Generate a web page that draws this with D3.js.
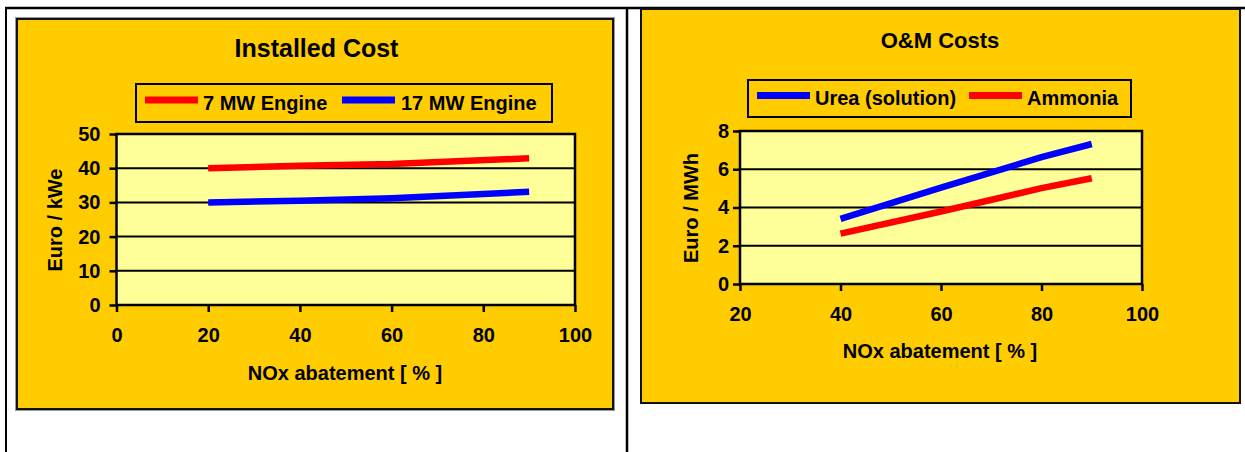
<!DOCTYPE html>
<html>
<head>
<meta charset="utf-8">
<script src="https://cdn.jsdelivr.net/npm/d3@7"></script>
<style>
  html, body { margin: 0; padding: 0; background: #fff; }
  svg text { font-family: Arial, "Liberation Sans", sans-serif; font-weight: bold; fill: #000; }
</style>
</head>
<body>
<svg id="chart" width="1245" height="452"></svg>
<script>
// ---- data: Installed Cost ----
const costX = [20, 40, 60, 90];
const cost7MW = [40.0, 40.7, 41.2, 42.9];
const cost17MW = [30.0, 30.5, 31.2, 33.1];
const costXTicks = [0, 20, 40, 60, 80, 100];
const costYTicks = [0, 10, 20, 30, 40, 50];

// ---- data: O&M Costs ----
const omX = [40, 60, 80, 90];
const omUrea = [3.41, 5.04, 6.63, 7.32];
const omAmmonia = [2.63, 3.79, 5.01, 5.53];
const omXTicks = [20, 40, 60, 80, 100];
const omYTicks = [0, 2, 4, 6, 8];

const svg = d3.select("#chart");

// page frame lines
svg.append("line").attr("x1", 5).attr("x2", 1245).attr("y1", 8).attr("y2", 8).attr("stroke", "#000").attr("stroke-width", 2.5);
svg.append("line").attr("x1", 6).attr("x2", 6).attr("y1", 7).attr("y2", 452).attr("stroke", "#000").attr("stroke-width", 2);
svg.append("line").attr("x1", 627).attr("x2", 627).attr("y1", 7).attr("y2", 452).attr("stroke", "#000").attr("stroke-width", 2.5);

function drawChart(c) {
  const g = svg.append("g");
  // outer box
  if (c.halo) {
    g.append("rect").attr("x", c.box[0]).attr("y", c.box[1]).attr("width", c.box[2]).attr("height", c.box[3])
      .attr("fill", "none").attr("stroke", "#999").attr("stroke-width", 4);
  }
  g.append("rect").attr("x", c.box[0]).attr("y", c.box[1]).attr("width", c.box[2]).attr("height", c.box[3])
    .attr("fill", "#FFCC00").attr("stroke", "#111").attr("stroke-width", 2);

  const x = d3.scaleLinear().domain(c.xDomain).range([c.plot[0], c.plot[1]]);
  const y = d3.scaleLinear().domain(c.yDomain).range([c.plot[3], c.plot[2]]);

  // plot area
  g.append("rect").attr("x", c.plot[0]).attr("y", c.plot[2])
    .attr("width", c.plot[1] - c.plot[0]).attr("height", c.plot[3] - c.plot[2])
    .attr("fill", "#FFFF99");

  // gridlines
  g.append("g").selectAll("line").data(c.yTicks).join("line")
    .attr("x1", c.plot[0]).attr("x2", c.plot[1])
    .attr("y1", d => y(d)).attr("y2", d => y(d))
    .attr("stroke", "#000").attr("stroke-width", 2);

  // border
  g.append("rect").attr("x", c.plot[0]).attr("y", c.plot[2])
    .attr("width", c.plot[1] - c.plot[0]).attr("height", c.plot[3] - c.plot[2])
    .attr("fill", "none").attr("stroke", "#000").attr("stroke-width", 2.5);

  // axes
  const ya = g.append("g").attr("transform", `translate(${c.plot[0]},0)`)
    .call(d3.axisLeft(y).tickValues(c.yTicks).tickSize(7).tickPadding(c.yPad).tickFormat(d3.format("d")));
  const xa = g.append("g").attr("transform", `translate(0,${c.plot[3]})`)
    .call(d3.axisBottom(x).tickValues(c.xTicks).tickSize(7).tickPadding(c.xPad).tickFormat(d3.format("d")));
  [ya, xa].forEach(a => {
    a.select(".domain").remove();
    a.selectAll(".tick line").attr("stroke", "#000").attr("stroke-width", 2.5);
    a.selectAll(".tick text").attr("font-size", 20).attr("font-family", "Arial, 'Liberation Sans', sans-serif").attr("font-weight", "bold").attr("fill", "#000");
  });

  // series lines
  const line = d3.line().x(d => x(d[0])).y(d => y(d[1]));
  c.series.forEach(s => {
    g.append("path").datum(s.xs.map((v, i) => [v, s.ys[i]]))
      .attr("d", line).attr("fill", "none").attr("stroke", s.color)
      .attr("stroke-width", 6.5).attr("stroke-linejoin", "round");
  });

  // title
  g.append("text").attr("x", c.title.x).attr("y", c.title.y).attr("text-anchor", "middle")
    .attr("font-size", c.title.size).text(c.title.text);

  // legend
  const L = c.legend;
  g.append("rect").attr("x", L.box[0]).attr("y", L.box[1]).attr("width", L.box[2]).attr("height", L.box[3])
    .attr("fill", "none").attr("stroke", "#000").attr("stroke-width", 2);
  L.items.forEach(it => {
    g.append("line").attr("x1", it.sx[0]).attr("x2", it.sx[1]).attr("y1", L.sy).attr("y2", L.sy)
      .attr("stroke", it.color).attr("stroke-width", 7);
    g.append("text").attr("x", it.tx).attr("y", L.ty).attr("font-size", 20).text(it.label);
  });

  // axis titles
  g.append("text").attr("x", c.xTitle.x).attr("y", c.xTitle.y).attr("text-anchor", "middle")
    .attr("font-size", 20).text(c.xTitle.text);
  g.append("text").attr("transform", `translate(${c.yTitle.x},${c.yTitle.y}) rotate(-90)`)
    .attr("text-anchor", "middle").attr("font-size", 20).text(c.yTitle.text);
}

drawChart({
  halo: true,
  box: [17, 19, 596, 390],
  plot: [116.5, 575, 134, 305],
  xDomain: [0, 100], yDomain: [0, 50],
  xTicks: costXTicks, yTicks: costYTicks,
  xPad: 16, yPad: 9,
  series: [
    { xs: costX, ys: cost7MW, color: "#FF0000" },
    { xs: costX, ys: cost17MW, color: "#0000FF" }
  ],
  title: { text: "Installed Cost", x: 316.5, y: 57, size: 25 },
  legend: {
    box: [136, 84, 416, 38], sy: 100, ty: 110,
    items: [
      { label: "7 MW Engine", color: "#FF0000", sx: [145, 198], tx: 203 },
      { label: "17 MW Engine", color: "#0000FF", sx: [342, 395], tx: 401 }
    ]
  },
  xTitle: { text: "NOx abatement [ % ]", x: 345, y: 380 },
  yTitle: { text: "Euro / kWe", x: 62, y: 220 }
});

drawChart({
  halo: false,
  box: [641, 9, 599, 394],
  plot: [740, 1142, 131, 284],
  xDomain: [20, 100], yDomain: [0, 8],
  xTicks: omXTicks, yTicks: omYTicks,
  xPad: 16, yPad: 4,
  series: [
    { xs: omX, ys: omUrea, color: "#0000FF" },
    { xs: omX, ys: omAmmonia, color: "#FF0000" }
  ],
  title: { text: "O&M Costs", x: 940, y: 48, size: 22 },
  legend: {
    box: [748, 80, 383, 37], sy: 95.5, ty: 105,
    items: [
      { label: "Urea (solution)", color: "#0000FF", sx: [757, 810], tx: 815 },
      { label: "Ammonia", color: "#FF0000", sx: [969, 1022], tx: 1027 }
    ]
  },
  xTitle: { text: "NOx abatement [ % ]", x: 940, y: 358 },
  yTitle: { text: "Euro / MWh", x: 698, y: 208 }
});
</script>
</body>
</html>
